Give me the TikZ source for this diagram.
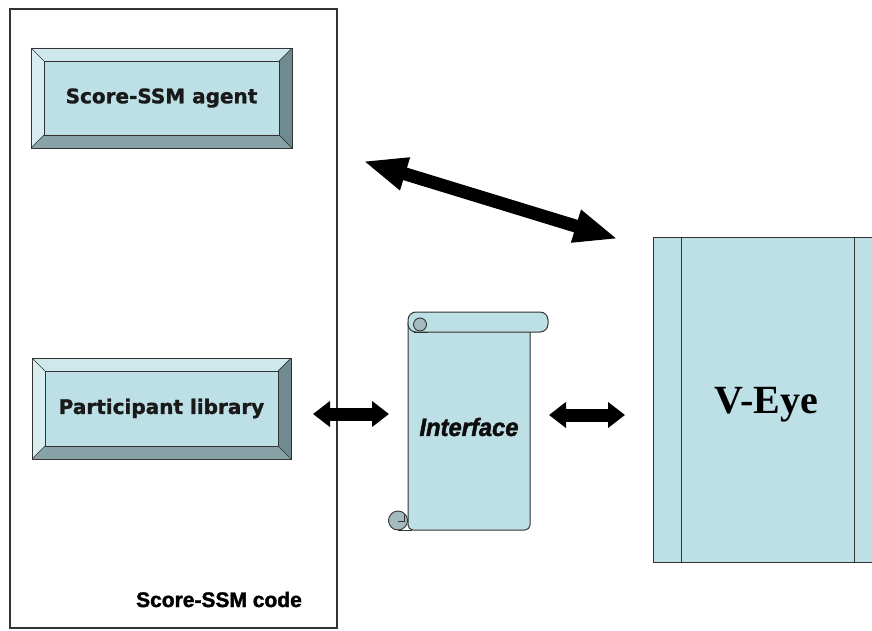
\documentclass[tikz,border=0pt]{standalone}
\usepackage{fontspec}
\setmainfont{Liberation Serif}
\newfontfamily\verdf[FakeBold=1.3]{DejaVu Sans Bold}
\newfontfamily\arialf[FakeBold=1.8]{Liberation Sans Bold}
\newfontfamily\arialif[FakeBold=1.8,FakeStretch=0.95]{Liberation Sans Bold Italic}
\usetikzlibrary{arrows.meta}
\definecolor{face}{HTML}{BCE0E5}
\definecolor{topbev}{HTML}{CFE8EC}
\definecolor{leftbev}{HTML}{D7EDF0}
\definecolor{rightbev}{HTML}{6F8B8F}
\definecolor{botbev}{HTML}{88A3A7}
\definecolor{linec}{HTML}{333333}
\definecolor{curl}{HTML}{A3BBBE}
\tikzset{
  bevelbtn/.style={draw=linec, line width=0.9pt, fill=face, inner sep=0pt,
    font=\verdf\fontsize{20}{24}\selectfont, text=black!90,
    path picture={
      \fill[topbev] (path picture bounding box.north west) -- (path picture bounding box.north east)
        -- ([shift={(-13pt,-13pt)}]path picture bounding box.north east)
        -- ([shift={(13pt,-13pt)}]path picture bounding box.north west) -- cycle;
      \fill[leftbev] (path picture bounding box.north west) -- (path picture bounding box.south west)
        -- ([shift={(13pt,13pt)}]path picture bounding box.south west)
        -- ([shift={(13pt,-13pt)}]path picture bounding box.north west) -- cycle;
      \fill[rightbev] (path picture bounding box.north east) -- (path picture bounding box.south east)
        -- ([shift={(-13pt,13pt)}]path picture bounding box.south east)
        -- ([shift={(-13pt,-13pt)}]path picture bounding box.north east) -- cycle;
      \fill[botbev] (path picture bounding box.south west) -- (path picture bounding box.south east)
        -- ([shift={(-13pt,13pt)}]path picture bounding box.south east)
        -- ([shift={(13pt,13pt)}]path picture bounding box.south west) -- cycle;
      \draw[linec, line width=0.9pt] ([shift={(13pt,13pt)}]path picture bounding box.south west)
        rectangle ([shift={(-13pt,-13pt)}]path picture bounding box.north east);
      \draw[linec, line width=0.7pt]
        (path picture bounding box.north west) -- ([shift={(13pt,-13pt)}]path picture bounding box.north west)
        (path picture bounding box.north east) -- ([shift={(-13pt,-13pt)}]path picture bounding box.north east)
        (path picture bounding box.south west) -- ([shift={(13pt,13pt)}]path picture bounding box.south west)
        (path picture bounding box.south east) -- ([shift={(-13pt,13pt)}]path picture bounding box.south east);
    }},
  scrollst/.style={draw=linec, line width=1pt, fill=face},
  curlst/.style={draw=linec, line width=0.9pt, fill=curl},
  fatarrow/.style={line width=13pt, {Triangle[length=17pt,width=25pt]}-{Triangle[length=17pt,width=25pt]}},
  diagarrow/.style={line width=13pt, {Triangle[length=44pt,width=31pt]}-{Triangle[length=44pt,width=31pt]}}
}
\begin{document}
\begin{tikzpicture}[x=1pt,y=-1pt]
\useasboundingbox (0,0) rectangle (872,631);
\clip (0,0) rectangle (872,631);
% outer code box
\node[draw=linec, line width=1.1pt, minimum width=327pt, minimum height=619pt, inner sep=0pt] (code) at (173.5,318.5) {};
\node[font=\arialf\fontsize{21}{24}\selectfont, anchor=base] (codelbl) at (219,607) {Score-SSM code};
% buttons
\node[bevelbtn, minimum width=261pt, minimum height=100pt] (agent) at (161.5,98) {Score-SSM agent};
\node[bevelbtn, minimum width=259pt, minimum height=101pt] (part) at (161.5,408.5) {Participant library};
% scroll
\filldraw[scrollst, rounded corners=5pt] (408,322) -- (408,530) -- (530,530) -- (530,322);
\filldraw[scrollst, rounded corners=8pt] (408,312) rectangle (548,332);
\filldraw[curlst] (420,324.5) circle (6.5pt);
\draw[linec, line width=0.9pt] (413.5,332) -- (428,332);
\filldraw[curlst] (398,520.5) circle (9.5pt);
\draw[linec, line width=0.8pt] (398,521) -- (404,521) -- (404,515);
\draw[linec, line width=1pt] (398,530) -- (412,530);
\node[font=\arialif\fontsize{25}{28}\selectfont, text=black!95] (iface) at (469,427) {Interface};
% V-Eye
\node[draw=linec, line width=1pt, fill=face, minimum width=260pt, minimum height=325pt, inner sep=0pt] (veye) at (783,399.5) {};
\draw[linec, line width=1pt] (681,237) -- (681,562) (854,237) -- (854,562);
\node[font=\bfseries\fontsize{40}{44}\selectfont, anchor=base] (veyelbl) at (766,413) {V-Eye};
% arrows
\coordinate (d1) at (363,161);
\coordinate (d2) at (618,239);
\coordinate (l1) at (313,414);
\coordinate (l2) at (389,414);
\coordinate (r1) at (549,415);
\coordinate (r2) at (625,415);
\draw[diagarrow] (d1) -- (d2);
\draw[fatarrow] (l1) -- (l2);
\draw[fatarrow] (r1) -- (r2);
\end{tikzpicture}
\end{document}
